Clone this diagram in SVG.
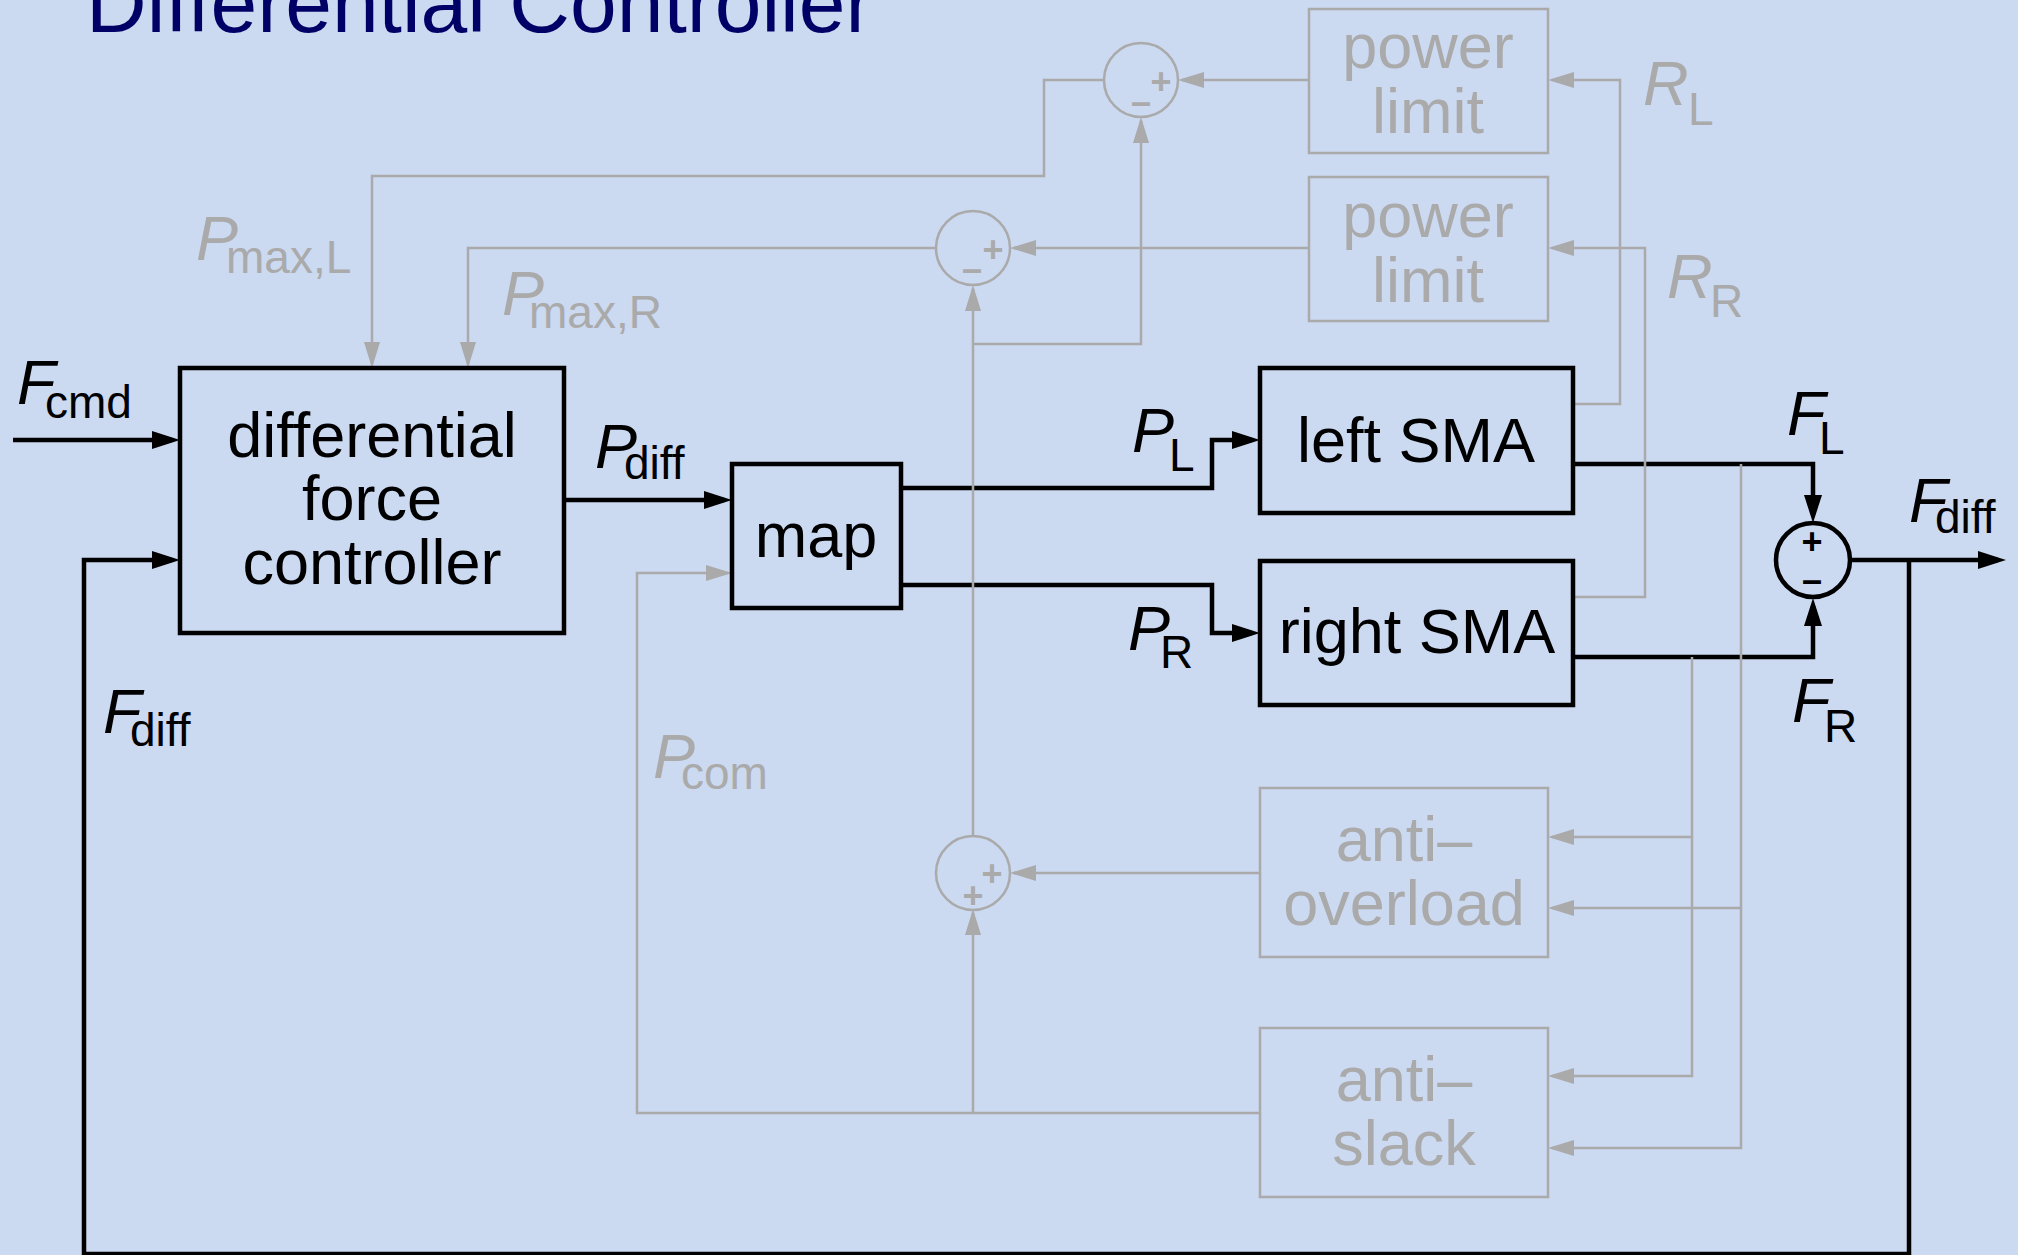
<svg xmlns="http://www.w3.org/2000/svg" width="2018" height="1255" viewBox="0 0 2018 1255">
<defs>
<style>
.bg{fill:#cbd9f1}
.bb{fill:none;stroke:#000;stroke-width:4.5}
.gb{fill:none;stroke:#aaaaaa;stroke-width:2.5}
.bl{fill:none;stroke:#000;stroke-width:4.5;marker-end:url(#ab)}
.gl{fill:none;stroke:#aaaaaa;stroke-width:2.5;marker-end:url(#ag)}
text{font-family:"Liberation Sans",Arial,Helvetica,sans-serif}
.t{font-size:63px;text-anchor:middle;fill:#000}
.tg{font-size:63px;text-anchor:middle;fill:#aaaaaa}
.lb{fill:#000}
.lg{fill:#aaaaaa}
.i{font-size:63px;font-style:italic}
.s{font-size:46px;font-style:normal}
.sgn{font-size:36px;font-weight:bold;text-anchor:middle;fill:#000}
.sgg{font-size:36px;font-weight:bold;text-anchor:middle;fill:#aaaaaa}
.title{font-size:84px;fill:#000066}
</style>
<marker id="ab" markerUnits="userSpaceOnUse" markerWidth="30" markerHeight="20" refX="20" refY="9" orient="auto"><path d="M0,0 L28,9 L0,18 z" fill="#000"/></marker>
<marker id="ag" markerUnits="userSpaceOnUse" markerWidth="28" markerHeight="18" refX="22" refY="8" orient="auto"><path d="M0,0 L26,8 L0,16 z" fill="#aaaaaa"/></marker>
</defs>
<rect class="bg" x="0" y="0" width="2018" height="1255"/>
<text class="title" x="86" y="32">Differential Controller</text>

<g id="connectors">
<path class="bl" d="M13,440 H172"/>
<path class="bl" d="M564,500 H724"/>
<path class="bl" d="M1909,560 V1254 H84 V560 H172"/>
<path class="bl" d="M901,488 H1212 V440 H1252"/>
<path class="bl" d="M901,585 H1212 V633 H1252"/>
<path class="bl" d="M1573,464 H1813 V515"/>
<path class="bl" d="M1573,657 H1813 V606"/>
<path class="bl" d="M1850,560 H1998"/>
<path class="gl" d="M1573,404 H1620 V80 H1552"/>
<path class="gl" d="M1573,597 H1645 V248 H1552"/>
<path class="gl" d="M1308,80 H1182"/>
<path class="gl" d="M1308,248 H1014"/>
<path class="gl" d="M1104,80 H1044 V176 H372 V364"/>
<path class="gl" d="M936,248 H468 V364"/>
<path class="gl" d="M973,836 V289"/>
<path class="gl" d="M973,344 H1141 V121"/>
<path class="gl" d="M1260,873 H1014"/>
<path class="gl" d="M1260,1113 H637 V573 H728"/>
<path class="gl" d="M973,1113 V913"/>
<path class="gl" d="M1741,464 V1148 H1552"/>
<path class="gl" d="M1741,908 H1552"/>
<path class="gl" d="M1692,657 V1076 H1552"/>
<path class="gl" d="M1692,837 H1552"/>
</g>

<g id="dfc">
<rect class="bb" x="180" y="368" width="384" height="265"/>
<text class="t" x="372" y="457">differential</text>
<text class="t" x="372" y="520">force</text>
<text class="t" x="372" y="584">controller</text>
</g>
<g id="map">
<rect class="bb" x="732" y="464" width="169" height="144"/>
<text class="t" x="816" y="557">map</text>
</g>
<g id="leftSMA">
<rect class="bb" x="1260" y="368" width="313" height="145"/>
<text class="t" x="1416" y="462">left SMA</text>
</g>
<g id="rightSMA">
<rect class="bb" x="1260" y="561" width="313" height="144"/>
<text class="t" x="1417" y="653">right SMA</text>
</g>
<g id="powerlimitL">
<rect class="gb" x="1309" y="9" width="239" height="144"/>
<text class="tg" x="1428" y="68">power</text>
<text class="tg" x="1428" y="133">limit</text>
</g>
<g id="powerlimitR">
<rect class="gb" x="1309" y="177" width="239" height="144"/>
<text class="tg" x="1428" y="237">power</text>
<text class="tg" x="1428" y="302">limit</text>
</g>
<g id="antioverload">
<rect class="gb" x="1260" y="788" width="288" height="169"/>
<text class="tg" x="1404" y="861">anti–</text>
<text class="tg" x="1404" y="925">overload</text>
</g>
<g id="antislack">
<rect class="gb" x="1260" y="1028" width="288" height="169"/>
<text class="tg" x="1404" y="1101">anti–</text>
<text class="tg" x="1404" y="1165">slack</text>
</g>

<g id="sum1">
<circle class="gb" cx="1141" cy="80" r="37"/>
<text class="sgg" x="1161" y="94">+</text>
<text class="sgg" x="1141" y="114">–</text>
</g>
<g id="sum2">
<circle class="gb" cx="973" cy="248" r="37"/>
<text class="sgg" x="993" y="262">+</text>
<text class="sgg" x="972" y="281">–</text>
</g>
<g id="sum3">
<circle class="gb" cx="973" cy="873" r="37"/>
<text class="sgg" x="992" y="886">+</text>
<text class="sgg" x="973" y="908">+</text>
</g>
<g id="sumF">
<circle class="bb" cx="1813" cy="560" r="37"/>
<text class="sgn" x="1812" y="554">+</text>
<text class="sgn" x="1812" y="592">–</text>
</g>

<g id="labels">
<text class="lb"><tspan class="i" x="17" y="404">F</tspan><tspan class="s" x="45" y="418">cmd</tspan></text>
<text class="lb"><tspan class="i" x="595" y="468">P</tspan><tspan class="s" x="624" y="479">diff</tspan></text>
<text class="lb"><tspan class="i" x="103" y="733">F</tspan><tspan class="s" x="130" y="746">diff</tspan></text>
<text class="lg"><tspan class="i" x="196" y="260">P</tspan><tspan class="s" x="226" y="273">max,L</tspan></text>
<text class="lg"><tspan class="i" x="502" y="315">P</tspan><tspan class="s" x="529" y="328">max,R</tspan></text>
<text class="lg"><tspan class="i" x="653" y="778">P</tspan><tspan class="s" x="681" y="789">com</tspan></text>
<text class="lb"><tspan class="i" x="1132" y="452">P</tspan><tspan class="s" x="1169" y="471">L</tspan></text>
<text class="lb"><tspan class="i" x="1128" y="650">P</tspan><tspan class="s" x="1160" y="668">R</tspan></text>
<text class="lb"><tspan class="i" x="1787" y="435">F</tspan><tspan class="s" x="1819" y="454">L</tspan></text>
<text class="lb"><tspan class="i" x="1792" y="722">F</tspan><tspan class="s" x="1824" y="742">R</tspan></text>
<text class="lb"><tspan class="i" x="1909" y="522">F</tspan><tspan class="s" x="1935" y="533">diff</tspan></text>
<text class="lg"><tspan class="i" x="1643" y="105">R</tspan><tspan class="s" x="1688" y="125">L</tspan></text>
<text class="lg"><tspan class="i" x="1667" y="298">R</tspan><tspan class="s" x="1710" y="317">R</tspan></text>
</g>
</svg>
